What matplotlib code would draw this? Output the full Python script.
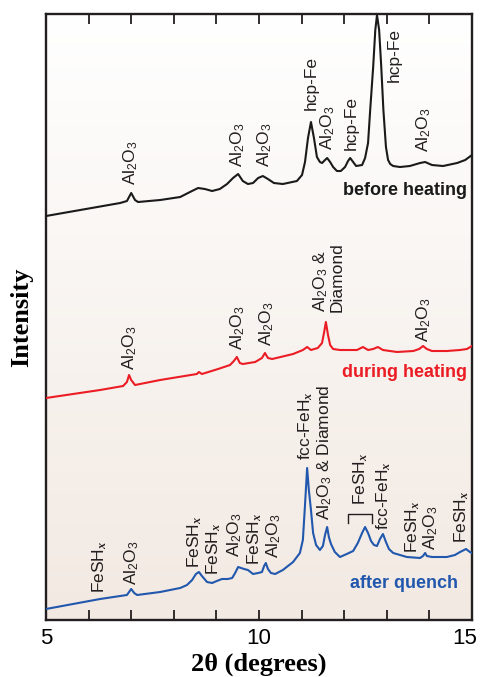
import numpy as np
import matplotlib
matplotlib.use("Agg")
import matplotlib.pyplot as plt
from matplotlib.transforms import ScaledTranslation

plt.rcParams['font.family'] = ['Liberation Sans', 'DejaVu Sans']
plt.rcParams['mathtext.fontset'] = 'custom'
plt.rcParams['mathtext.rm'] = 'Liberation Sans'
# only the "x" of the hydride formulas is set in italic, and it is bold serif there
plt.rcParams['mathtext.it'] = 'Liberation Serif:italic:bold'
plt.rcParams['mathtext.bf'] = 'Liberation Sans:bold'

# ---- traces: 2theta [deg], intensity [arb. units] ----
before_tt = [5.00, 6.74, 6.90, 7.00, 7.09, 7.16, 7.68, 8.15, 8.38, 8.57, 8.73, 8.90,
             9.08, 9.25, 9.39, 9.51, 9.62, 9.74, 9.86, 9.98, 10.09, 10.21, 10.35, 10.56,
             10.89, 11.01, 11.08, 11.15, 11.22, 11.29, 11.36, 11.43, 11.48, 11.55, 11.60,
             11.67, 11.74, 11.83, 11.92, 12.02, 12.09, 12.14, 12.21, 12.28, 12.42, 12.49,
             12.56, 12.61, 12.68, 12.73, 12.77, 12.82, 12.87, 12.92, 12.98, 13.03, 13.08,
             13.15, 13.31, 13.54, 13.78, 13.90, 14.06, 14.32, 14.65, 14.84, 15.00]
before_I = [404, 417, 419, 427, 420, 418, 420, 423, 428, 432, 431, 429,
            431, 436, 442, 446, 439, 436, 437, 442, 444, 441, 437, 436,
            439, 445, 458, 482, 498, 482, 463, 458, 457, 460, 462,
            458, 453, 449, 449, 453, 459, 462, 458, 454, 455, 462,
            477, 510, 553, 590, 605, 590, 553, 510, 473, 460, 456,
            454, 453, 454, 457, 458, 455, 454, 457, 460, 465]

during_tt = [5.00, 6.27, 6.81, 6.90, 6.95, 7.00, 7.09, 7.68, 8.54, 8.59, 8.66, 9.04,
             9.32, 9.41, 9.48, 9.55, 9.62, 9.91, 10.07, 10.14, 10.21, 10.31, 10.80, 11.03,
             11.13, 11.22, 11.38, 11.48, 11.53, 11.57, 11.62, 11.67, 11.74, 11.90, 12.30,
             12.44, 12.56, 12.68, 12.79, 12.91, 13.24, 13.62, 13.76, 13.85, 13.94, 14.06,
             14.41, 14.72, 14.88, 15.00]
during_I = [222, 230, 234, 238, 245, 240, 235, 240, 246, 248, 246, 251,
            255, 259, 263, 257, 256, 258, 262, 267, 262, 261, 266, 270,
            273, 270, 272, 277, 288, 298, 285, 275, 271, 270, 270,
            273, 270, 271, 273, 270, 268, 269, 271, 274, 271, 269,
            269, 270, 271, 274]

after_tt = [5.00, 6.27, 6.90, 6.95, 7.00, 7.07, 7.14, 7.68, 8.15, 8.31, 8.43, 8.52,
            8.59, 8.66, 8.78, 8.90, 9.01, 9.13, 9.27, 9.37, 9.44, 9.51, 9.58, 9.65,
            9.74, 9.86, 9.98, 10.07, 10.12, 10.16, 10.21, 10.28, 10.38, 10.56, 10.80,
            10.96, 11.03, 11.08, 11.13, 11.17, 11.22, 11.27, 11.34, 11.43, 11.50, 11.55,
            11.60, 11.64, 11.69, 11.78, 11.90, 12.06, 12.21, 12.32, 12.42, 12.49, 12.56,
            12.63, 12.70, 12.77, 12.84, 12.91, 12.98, 13.05, 13.15, 13.47, 13.78, 13.85,
            13.90, 13.94, 14.06, 14.41, 14.60, 14.72, 14.86, 14.95, 15.00]
after_I = [11, 21, 25, 28, 31, 27, 25, 28, 32, 35, 40, 46,
           48, 44, 38, 37, 39, 41, 41, 42, 47, 53, 52, 51,
           50, 46, 47, 48, 54, 57, 51, 47, 46, 50, 58,
           67, 80, 115, 152, 130, 110, 87, 75, 70, 74, 85,
           93, 83, 76, 68, 63, 66, 69, 77, 87, 93, 87,
           79, 75, 74, 81, 86, 78, 71, 67, 63, 62, 64,
           67, 64, 63, 63, 65, 68, 71, 68, 67]

AL = r'Al$_2$O$_3$'
FESH = r'FeSH$_{\mathit{x}}$'
FCC = r'fcc-FeH$_{\mathit{x}}$'

# peak labels: (text, 2theta, bottom intensity)
before_labels = [(AL, 7.00, 435), (AL, 9.51, 453), (AL, 10.14, 453),
                 ('hcp-Fe', 11.22, 510), (AL, 11.62, 470), ('hcp-Fe', 12.16, 470),
                 ('hcp-Fe', 13.17, 538), (AL, 13.87, 468)]
during_labels = [(AL, 6.97, 250), (AL, 9.51, 270), (AL, 10.19, 274),
                 (AL + ' &\nDiamond', 11.62, 308), (AL, 13.87, 278)]
after_labels = [(FESH, 6.27, 27), (AL, 7.02, 35), (FESH, 8.50, 52), (FESH, 8.93, 45),
                (AL, 9.44, 63), (FESH, 9.91, 55), (AL, 10.34, 62), (FCC, 11.10, 160),
                (AL + ' & Diamond', 11.55, 100), (FESH, 12.39, 115), (FCC, 12.93, 90),
                (FESH, 13.62, 67), (AL, 14.04, 70), (FESH, 14.77, 77)]

series = [
    (before_tt, before_I, '#1a1a1a', 'before heating', 430, before_labels, 14.88),
    (during_tt, during_I, '#ec1c24', 'during heating', 248, during_labels, 14.88),
    (after_tt, after_I, '#2157ad', 'after quench', 36, after_labels, 14.67),
]

fig = plt.figure(figsize=(4.81, 6.77), dpi=100)
ax = fig.add_axes([0.0956, 0.0842, 0.8857, 0.8951])

# soft vertical background gradient
grad = np.linspace(0, 1, 256).reshape(-1, 1)
cmap = matplotlib.colors.LinearSegmentedColormap.from_list('bg', ['#f2e9e2', '#ffffff'])
ax.imshow(grad, extent=[5, 15, 0, 606], origin='lower', aspect='auto', cmap=cmap, zorder=0)

for tt, inten, col, name, name_y, labels, name_x in series:
    ax.plot(tt, inten, color=col, lw=1.5, zorder=3, solid_joinstyle='round')
    ax.text(name_x, name_y, name, color=col, fontsize=13, fontweight='bold',
            ha='right', va='center', zorder=4)
    for txt, x, y in labels:
        ax.text(x, y, txt, rotation=90, ha='center', va='bottom', fontsize=12.5,
                color='#231f20', multialignment='left', linespacing=0.95, zorder=4)

# bracket under the FeSHx label
ax.plot([12.09, 12.09, 12.65, 12.65], [97, 106, 106, 97], color='#231f20', lw=1.0, zorder=4)

ax.set_xlim(5, 15)
ax.set_ylim(0, 606)
ax.set_yticks([])
ax.set_xticks([5, 10, 15])
ax.set_xticks(np.arange(6, 15), minor=True)
ax.tick_params(axis='x', which='both', direction='in', top=True, length=7, width=1.3,
               color='#231f20', labelsize=16, pad=6)
# keep the last tick label inside the figure
last = ax.get_xticklabels()[-1]
last.set_transform(last.get_transform() + ScaledTranslation(-5 / 72, 0, fig.dpi_scale_trans))
for sp in ax.spines.values():
    sp.set_linewidth(1.7)
    sp.set_color('#231f20')

ax.set_xlabel(r'2θ (degrees)', family='Liberation Serif', fontweight='bold', fontsize=19, labelpad=2)
ax.set_ylabel('Intensity', family='Liberation Serif', fontweight='bold', fontsize=19, labelpad=9)

fig.savefig('out.png', dpi=100)
